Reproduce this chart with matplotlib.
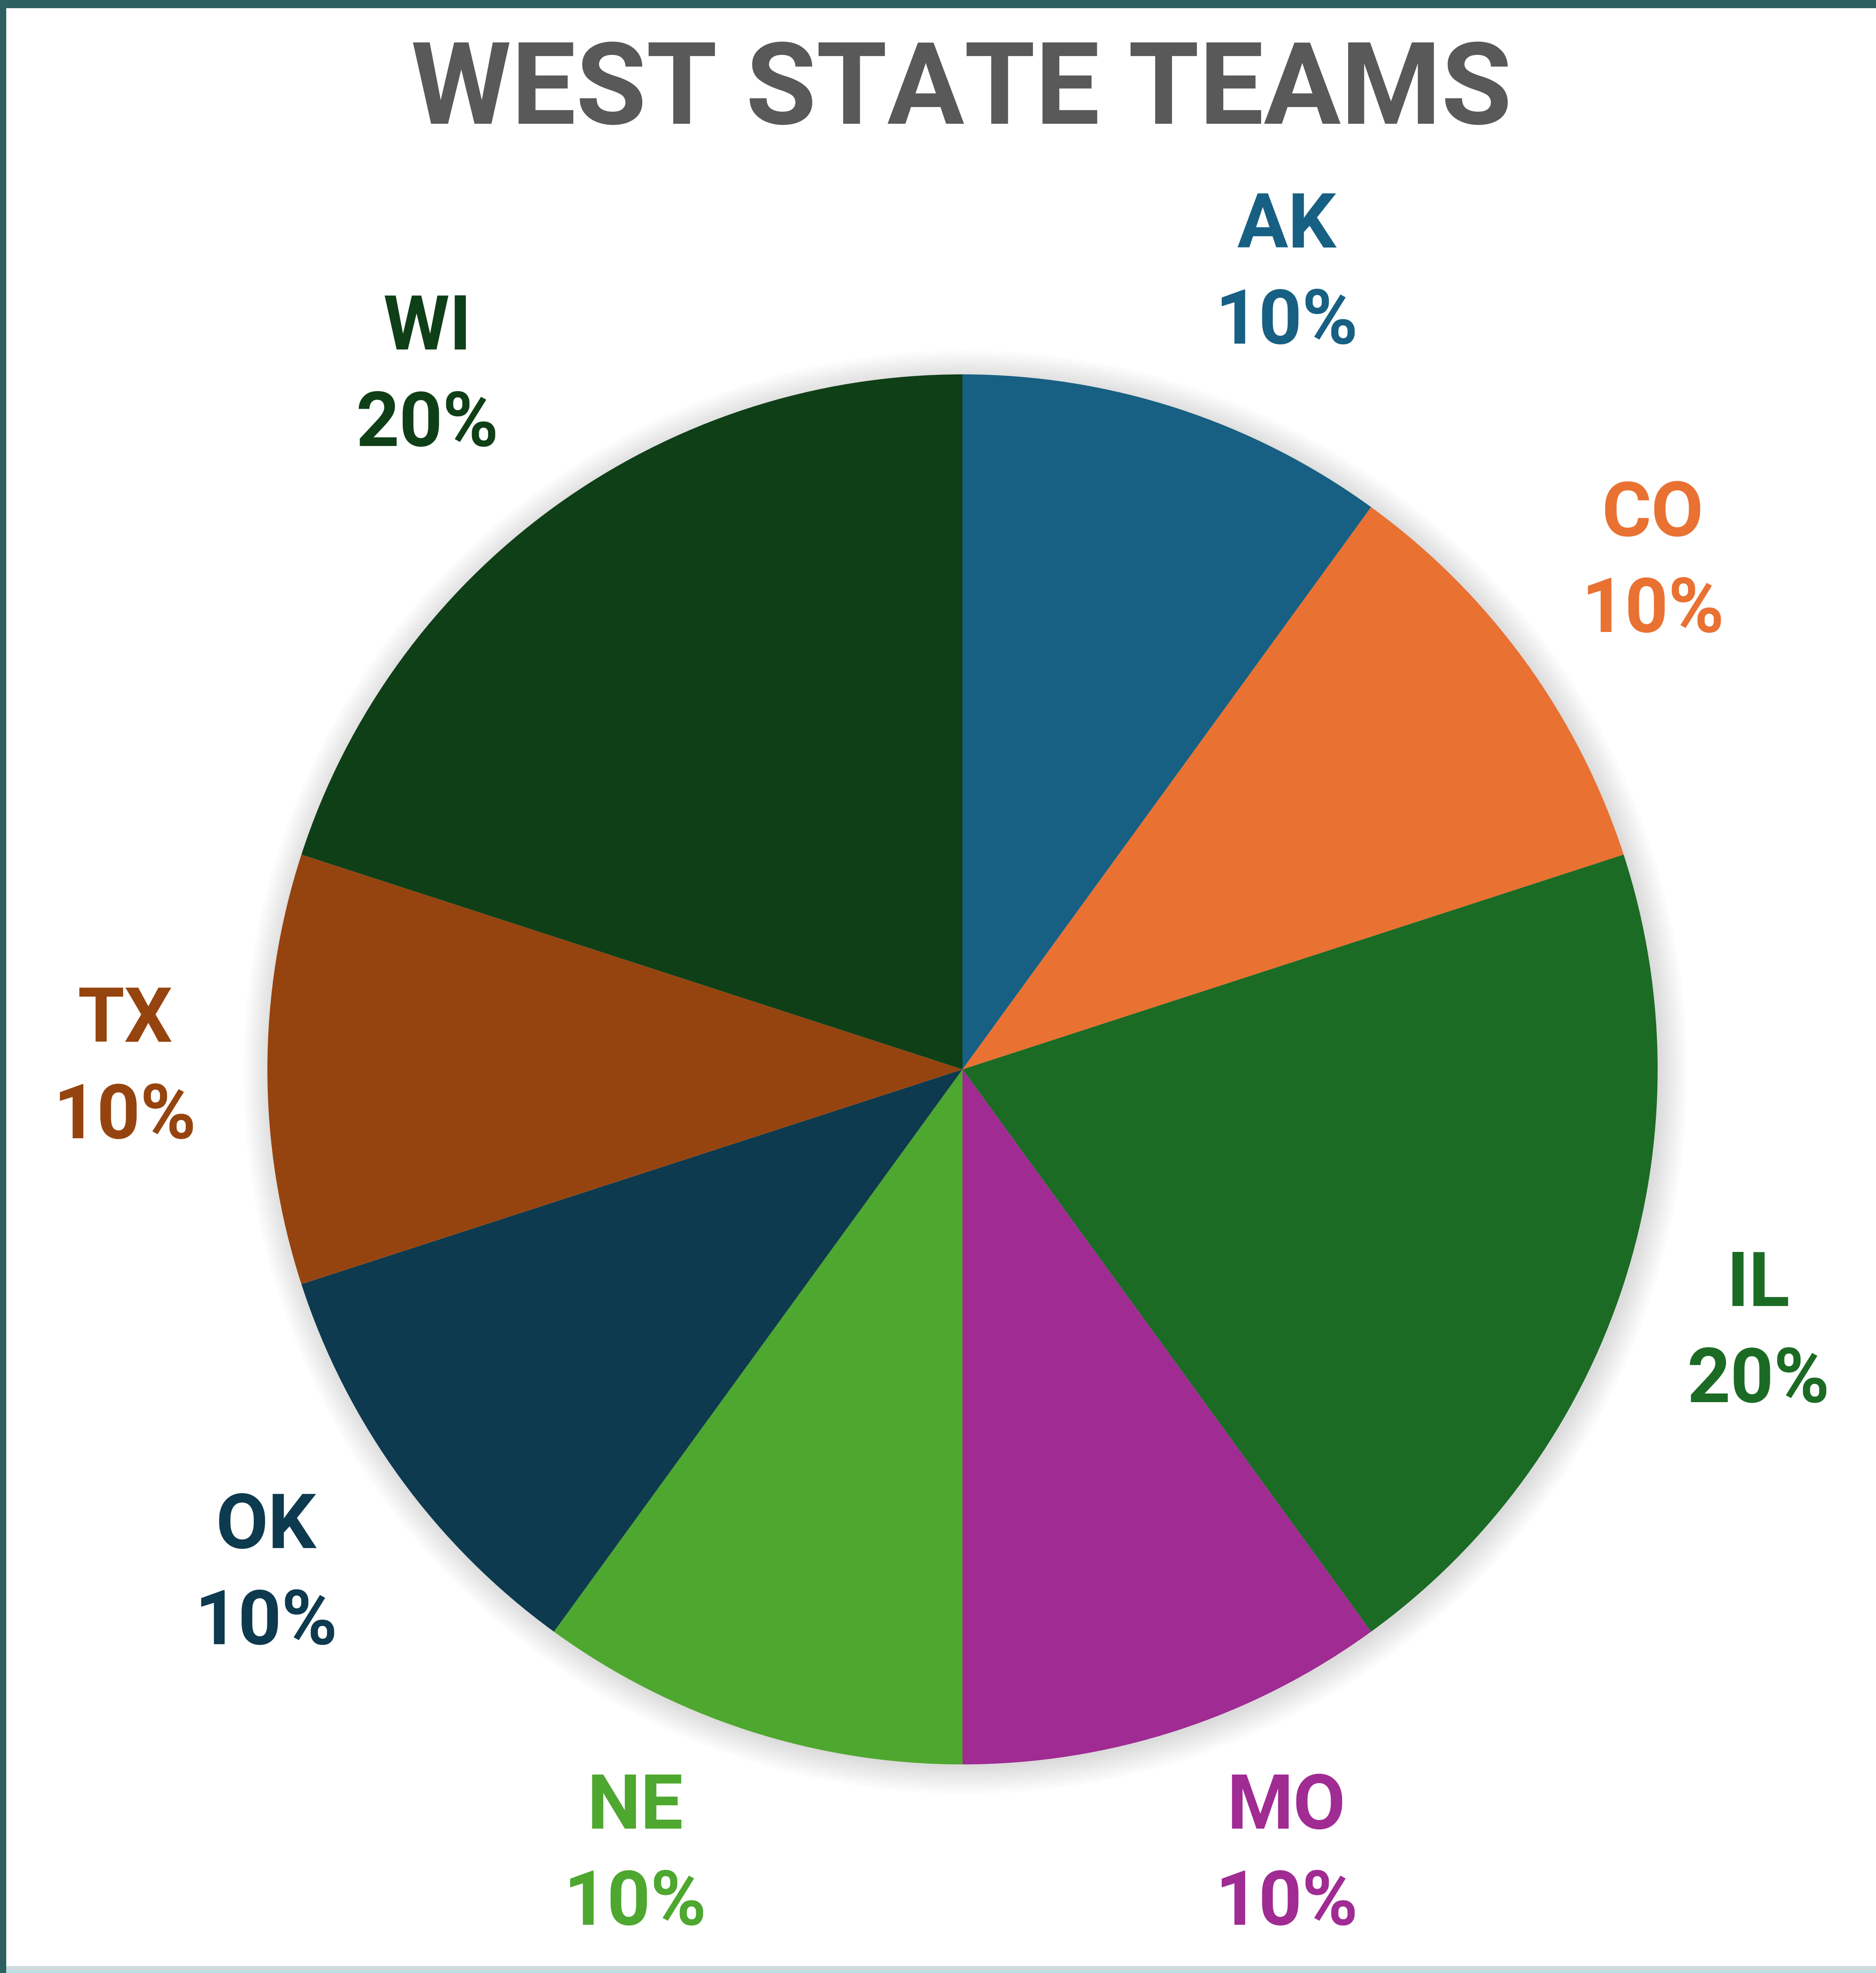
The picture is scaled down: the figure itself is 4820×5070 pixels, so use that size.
import matplotlib
matplotlib.use("Agg")
import matplotlib.pyplot as plt
from matplotlib.patches import Rectangle, Circle

# data
states = ['AK', 'CO', 'IL', 'MO', 'NE', 'OK', 'TX', 'WI']
shares = [10, 10, 20, 10, 10, 10, 10, 20]
colours = ['#176083', '#E97132', '#1B6B25', '#A02B93', '#4EA72E', '#0D3A4E', '#96440F', '#0F3F17']

# label spots, in pie radius units (Excel "best fit" style)
label_xy = [(0.466, 1.143), (0.993, 0.728), (1.145, -0.380), (0.466, -1.132),
            (-0.471, -1.132), (-1.002, -0.728), (-1.205, 0.0), (-0.770, 0.996)]

W, H = 4820, 5070
cx, cy, rad = 2473, 2748, 1786   # pie centre / radius in px (from top)

fig = plt.figure(figsize=(W / 100, H / 100), dpi=100)
fig.patch.set_facecolor('white')
ax = fig.add_axes([0, 0, 1, 1])

# soft shadow around the pie
for k in range(12):
    ax.add_patch(Circle((0.004, -0.004), 1.0 + k * 0.0035, color='#000000',
                        alpha=0.012, lw=0, zorder=0))

wedges, _ = ax.pie(shares, colors=colours, startangle=90, counterclock=False,
                   radius=1.0, wedgeprops=dict(linewidth=0))
for w in wedges:
    w.set_zorder(2)

for i, s in enumerate(states):
    x, y = label_xy[i]
    ax.text(x, y, s + '\n' + str(shares[i]) + '%', ha='center', va='center',
            fontsize=140, fontweight='bold', family='Roboto', color=colours[i],
            linespacing=1.42, zorder=3)

ax.set_xlim(-cx / rad, (W - cx) / rad)
ax.set_ylim(-(H - cy) / rad, cy / rad)
ax.set_aspect('auto')
ax.axis('off')

fig.text(2470 / W, 1 - 238 / H, 'WEST STATE TEAMS', ha='center', va='center',
         fontsize=212, fontweight='bold', family='Roboto', color='#595959')

# frame strips
fig.add_artist(Rectangle((0, 0), 16 / W, 1, transform=fig.transFigure, color='#2D6060', lw=0))
fig.add_artist(Rectangle((0, 1 - 21 / H), 1, 21 / H, transform=fig.transFigure, color='#2D6060', lw=0))
fig.add_artist(Rectangle((16 / W, 8 / H), 1, 10 / H, transform=fig.transFigure, color='#D0DADC', lw=0))
fig.add_artist(Rectangle((16 / W, 0), 1, 8 / H, transform=fig.transFigure, color='#BFE0E4', lw=0))

fig.savefig('out.png', dpi=100)
